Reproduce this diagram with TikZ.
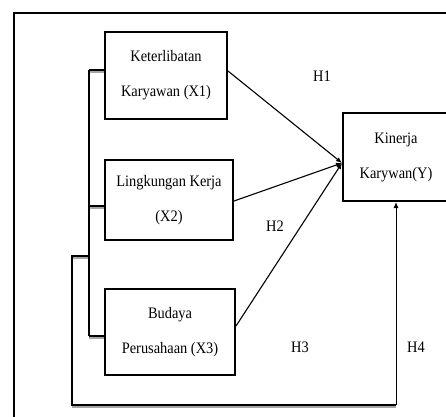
\documentclass[tikz,border=0pt]{standalone}
\usepackage{fontspec}
\setmainfont{Liberation Serif}[FakeStretch=0.9]
\usetikzlibrary{arrows.meta,calc}
\begin{document}
\begin{tikzpicture}[x=1pt,y=-1pt,
  box/.style={draw,line width=2pt,align=center,inner sep=0pt,
    font=\fontsize{16}{35}\selectfont},
  lbl/.style={font=\fontsize{16}{19}\selectfont,inner sep=0pt},
  arr/.style={line width=1.1pt,-{Latex[length=6pt,width=5pt]}},
  brk/.style={line width=2pt},
  shd/.style={line width=1.6pt,black!35}]
\clip (0,0) rectangle (446,416);
\draw[line width=2pt] (14,12.5) rectangle (470,440);
% boxes
\node[box,minimum width=122pt,minimum height=87pt] (x1) at (166,75.5) {Keterlibatan\\Karyawan (X1)};
\node[box,minimum width=128pt,minimum height=80pt] (x2) at (169,200) {Lingkungan Kerja\\(X2)};
\node[box,minimum width=130pt,minimum height=86pt] (x3) at (170,332) {Budaya\\Perusahaan (X3)};
\node[box,minimum width=106pt,minimum height=88pt] (yk) at (396,157) {Kinerja\\Karywan(Y)};
% labels
\node[lbl] (h1) at (322,76) {H1};
\node[lbl] (h2) at (275,226) {H2};
\node[lbl] (h3) at (300,347) {H3};
\node[lbl] (h4) at (416,347) {H4};
% coordinates
\coordinate (yin) at (yk.west |- 0,163);
\coordinate (b1) at (89,70);
\coordinate (b2) at (89,206);
\coordinate (b3) at (89,336);
\coordinate (bl) at (89,256);
\coordinate (l1) at (72,256);
\coordinate (l2) at (72,405);
% shadows
\draw[shd] ($(b1)+(0,1.8)$) -- ($(x1.west|-b1)+(0,1.8)$);
\draw[shd] ($(b2)+(0,1.8)$) -- ($(x2.west|-b2)+(0,1.8)$);
\draw[shd] ($(b3)+(0,1.8)$) -- ($(x3.west|-b3)+(0,1.8)$);
\draw[shd] ($(bl)+(0,1.8)$) -- ($(l1)+(0,1.8)$);
\draw[shd] ($(l2)+(0,1.8)$) -- ($(yk.south|-l2)+(0,1.8)$);
% bracket
\draw[brk] (b1) -- (b3);
\draw[brk] (b1) -- (x1.west|-b1);
\draw[brk] (b2) -- (x2.west|-b2);
\draw[brk] (b3) -- (x3.west|-b3);
\draw[brk] (bl) -- (l1) -- (l2) -- (yk.south|-l2);
% arrows
\draw[arr] (x1.east|-0,71) -- (yin);
\draw[arr] (x2.east|-0,201) -- (yin);
\draw[arr] (x3.east|-0,326) -- (yin);
\draw[arr,line width=1pt] (yk.south|-l2) -- (yk.south);
\end{tikzpicture}
\end{document}
